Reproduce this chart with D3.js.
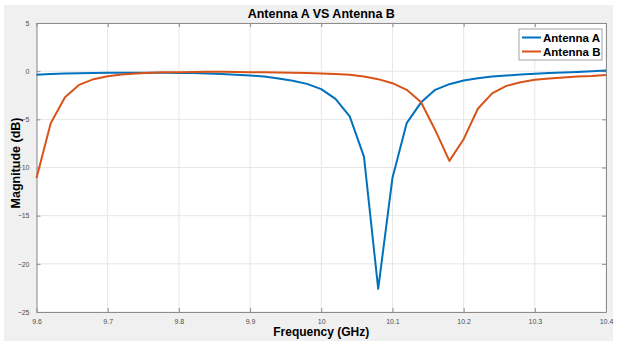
<!DOCTYPE html>
<html>
<head>
<meta charset="utf-8">
<script src="https://cdn.jsdelivr.net/npm/d3@7"></script>
<style>
  body { margin: 0; background: #fff; }
  svg { display: block; font-family: Arial, "Liberation Sans", Helvetica, sans-serif; }
</style>
</head>
<body>
<svg id="chart" width="617" height="343"></svg>
<script>
// frequencies, 0.02 GHz step
const freqs = d3.range(41).map(i => +(9.6 + i * 0.02).toFixed(2))

const antennaA = [
  -0.38, -0.3, -0.25, -0.21, -0.18, -0.17, -0.16, -0.16, -0.16, -0.17,
  -0.18, -0.2, -0.24, -0.29, -0.36, -0.46, -0.56, -0.75, -1.0, -1.32,
  -1.87, -2.88, -4.7, -8.87, -22.6, -11.1, -5.4, -3.26, -1.94, -1.35,
  -0.97, -0.73, -0.56, -0.45, -0.35, -0.28, -0.2, -0.14, -0.08, -0.02, 0.06
]

const antennaB = [
  -11.1, -5.4, -2.7, -1.42, -0.83, -0.52, -0.35, -0.25, -0.17, -0.12,
  -0.1, -0.08, -0.07, -0.07, -0.08, -0.1, -0.12, -0.14, -0.17, -0.2,
  -0.25, -0.3, -0.38, -0.56, -0.83, -1.25, -1.94, -3.2, -6.1, -9.31,
  -7.06, -3.9, -2.3, -1.53, -1.15, -0.9, -0.77, -0.67, -0.56, -0.5, -0.39
]

const series = [
  {name: 'Antenna A', values: antennaA, color: '#0072BD'},
  {name: 'Antenna B', values: antennaB, color: '#D95319'}
]

const xTicks = [9.6, 9.7, 9.8, 9.9, 10, 10.1, 10.2, 10.3, 10.4]
const yTicks = [5, 0, -5, -10, -15, -20, -25]

const svg = d3.select('#chart')
const margin = {top: 23, right: 11, bottom: 31, left: 36.5}
const width = 617 - margin.left - margin.right
const height = 343 - margin.top - margin.bottom

// figure background
svg.append('rect')
  .attr('x', 4).attr('y', 5)
  .attr('width', 609).attr('height', 336)
  .attr('fill', '#f0f0f0')

const xScale = d3.scaleLinear().domain([9.6, 10.4]).range([0, width])
const yScale = d3.scaleLinear().domain([-25, 5]).range([height, 0])

const g = svg.append('g')
  .attr('transform', `translate(${margin.left}, ${margin.top})`)

g.append('rect')
  .attr('width', width).attr('height', height)
  .attr('fill', '#fff')

// grid
g.append('g')
  .selectAll('line')
  .data(xTicks)
  .join('line')
  .attr('x1', d => xScale(d)).attr('x2', d => xScale(d))
  .attr('y1', 0).attr('y2', height)
  .attr('stroke', '#e6e6e6').attr('stroke-width', 1)

g.append('g')
  .selectAll('line')
  .data(yTicks)
  .join('line')
  .attr('x1', 0).attr('x2', width)
  .attr('y1', d => yScale(d)).attr('y2', d => yScale(d))
  .attr('stroke', '#e6e6e6').attr('stroke-width', 1)

// axes, ticks pointing inward
function styleAxis (sel) {
  sel.select('.domain').attr('stroke', '#8c8c8c')
  sel.selectAll('.tick line').attr('stroke', '#8c8c8c')
  sel.selectAll('.tick text')
    .attr('fill', '#4d4d4d')
    .style('font-size', '7px')
}

g.append('g')
  .attr('transform', `translate(0, ${height})`)
  .call(d3.axisBottom(xScale).tickValues(xTicks).tickSize(-4).tickPadding(7).tickSizeOuter(0).tickFormat(d3.format('')))
  .call(styleAxis)

g.append('g')
  .call(d3.axisTop(xScale).tickValues(xTicks).tickSize(-4).tickSizeOuter(0).tickFormat(''))
  .call(styleAxis)

g.append('g')
  .call(d3.axisLeft(yScale).tickValues(yTicks).tickSize(-4).tickPadding(7).tickSizeOuter(0))
  .call(styleAxis)

g.append('g')
  .attr('transform', `translate(${width}, 0)`)
  .call(d3.axisRight(yScale).tickValues(yTicks).tickSize(-4).tickSizeOuter(0).tickFormat(''))
  .call(styleAxis)

g.selectAll('.domain').attr('fill', 'none')

// lines
const line = d3.line()
  .x((d, i) => xScale(freqs[i]))
  .y(d => yScale(d))

g.append('g')
  .selectAll('path')
  .data(series)
  .join('path')
  .attr('d', d => line(d.values))
  .attr('fill', 'none')
  .attr('stroke', d => d.color)
  .attr('stroke-width', 2)
  .attr('stroke-linejoin', 'round')

// title and labels
svg.append('text')
  .attr('x', margin.left + width / 2).attr('y', 18)
  .attr('text-anchor', 'middle')
  .style('font-size', '12.5px').style('font-weight', 'bold')
  .text('Antenna A VS Antenna B')

svg.append('text')
  .attr('x', margin.left + width / 2).attr('y', 336)
  .attr('text-anchor', 'middle')
  .style('font-size', '12px').style('font-weight', 'bold')
  .text('Frequency (GHz)')

svg.append('text')
  .attr('transform', `translate(20, 163) rotate(-90)`)
  .attr('text-anchor', 'middle')
  .style('font-size', '12.5px').style('font-weight', 'bold')
  .text('Magnitude (dB)')

// legend
const legend = svg.append('g').attr('transform', 'translate(519, 29)')
legend.append('rect')
  .attr('width', 83).attr('height', 31)
  .attr('fill', '#fff').attr('stroke', '#8c8c8c').attr('stroke-width', 0.8)

const item = legend.selectAll('g.item')
  .data(series)
  .join('g')
  .attr('class', 'item')
  .attr('transform', (d, i) => `translate(0, ${8.5 + i * 14})`)

item.append('line')
  .attr('x1', 3).attr('x2', 22)
  .attr('stroke', d => d.color).attr('stroke-width', 2)

item.append('text')
  .attr('x', 24).attr('y', 4.5)
  .style('font-size', '11.5px').style('font-weight', 'bold')
  .text(d => d.name)
</script>
</body>
</html>
